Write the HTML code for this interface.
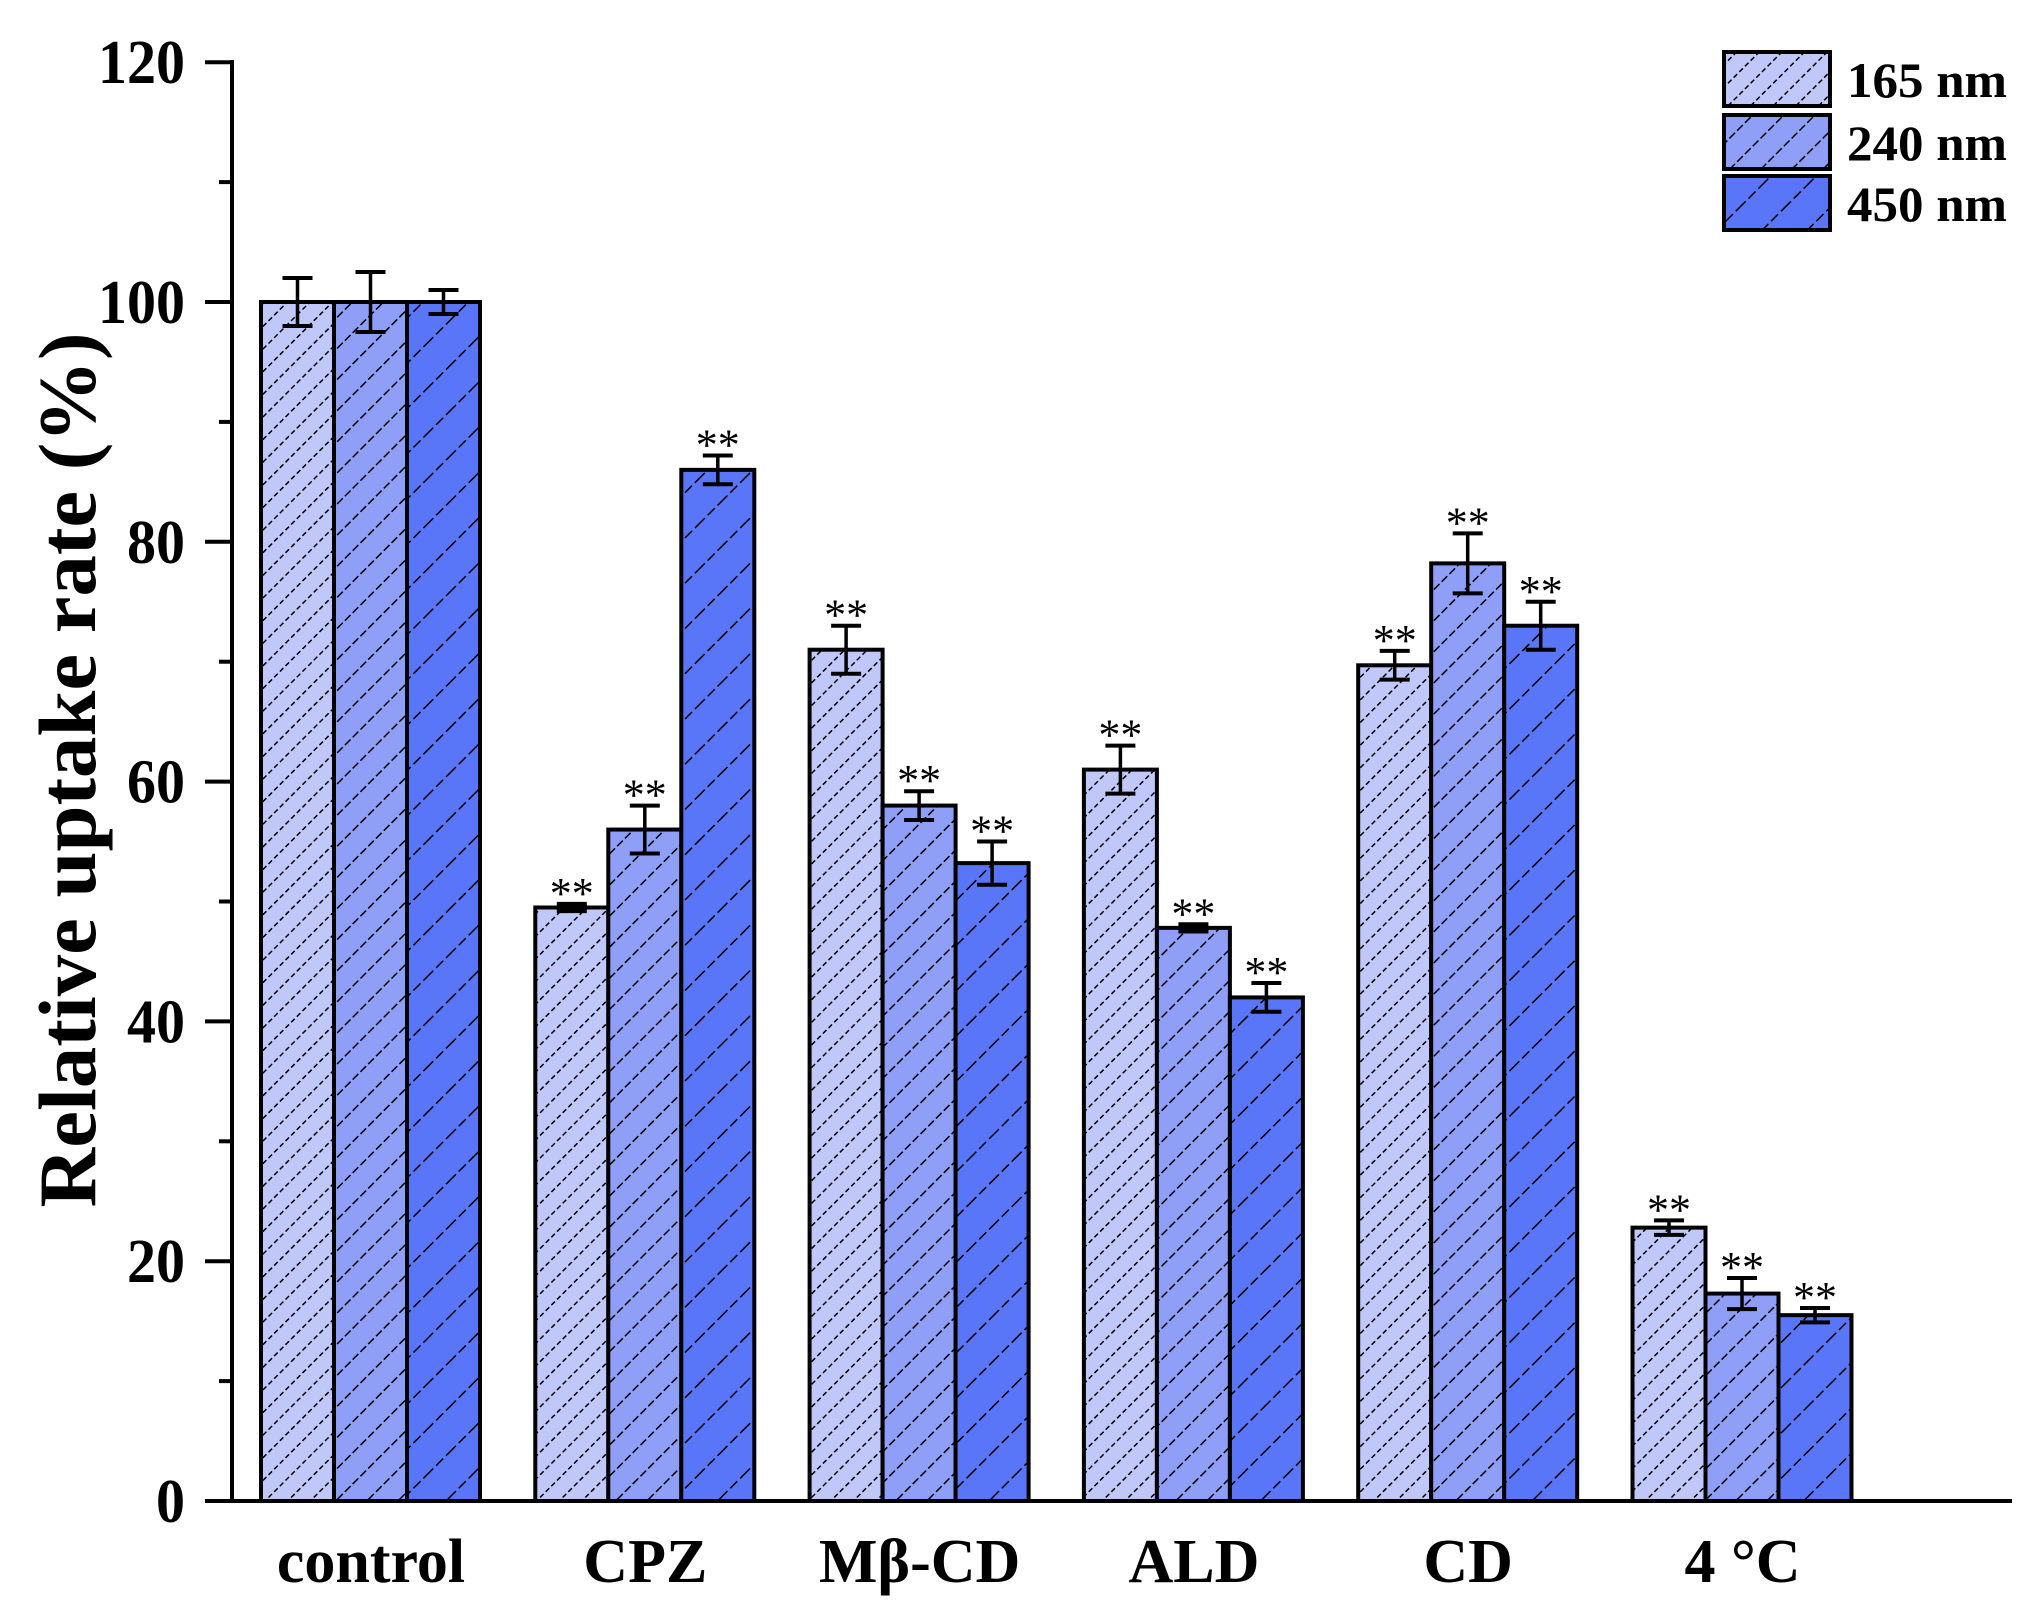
<!DOCTYPE html>
<html><head><meta charset="utf-8"><style>
html,body{margin:0;padding:0;background:#fff;}
svg{display:block;}
text{font-family:"Liberation Serif",serif;font-weight:bold;fill:#000;}
</style></head><body>
<svg id="s" width="2033" height="1608" xmlns="http://www.w3.org/2000/svg">
<defs>
<pattern id="p1" patternUnits="userSpaceOnUse" width="16" height="16" patternTransform="rotate(45)">
<rect width="16" height="16" fill="#c0c8fa"/><line x1="0" y1="0" x2="0" y2="16" stroke="#000" stroke-width="3" stroke-dasharray="5,3"/></pattern>
<pattern id="p2" patternUnits="userSpaceOnUse" width="22" height="22" patternTransform="rotate(45)">
<rect width="22" height="22" fill="#8f9ff8"/><line x1="0" y1="0" x2="0" y2="22" stroke="#000" stroke-width="3" stroke-dasharray="8,3"/></pattern>
<pattern id="p3" patternUnits="userSpaceOnUse" width="32" height="32" patternTransform="rotate(45)">
<rect width="32" height="32" fill="#5a76f8"/><line x1="0" y1="0" x2="0" y2="32" stroke="#000" stroke-width="3" stroke-dasharray="10,4"/></pattern>
</defs>
<g id="g"></g>
</svg>
<script>
var g=document.getElementById('g'),h='';
var X0=232,Y0=1501,U=11.99;
function y(v){return Y0-v*U;}
var data=[[100,2,100,2.5,100,1],[49.5,0.3,56,2,86,1.2],[71,2,58,1.2,53.2,1.8],[61,2,47.8,0.3,42,1.2],[69.7,1.2,78.2,2.5,73,2],[22.8,0.6,17.3,1.3,15.5,0.6]];
var cats=['control','CPZ','Mβ-CD','ALD','CD','4 °C'];
var W=73;
for(var i=0;i<6;i++){
 var gx=261+274.3*i;
 for(var j=0;j<3;j++){
  var v=data[i][2*j],e=data[i][2*j+1],bx=gx+j*W,ty=y(v);
  h+='<rect x="'+bx+'" y="'+ty+'" width="'+W+'" height="'+(Y0-ty)+'" fill="url(#p'+(j+1)+')" stroke="#000" stroke-width="4"/>';
  var cx=bx+W/2,t=y(v+e),b=y(v-e);
  h+='<line x1="'+cx+'" y1="'+t+'" x2="'+cx+'" y2="'+b+'" stroke="#000" stroke-width="3.5"/>';
  h+='<line x1="'+(cx-15)+'" y1="'+t+'" x2="'+(cx+15)+'" y2="'+t+'" stroke="#000" stroke-width="4"/>';
  h+='<line x1="'+(cx-15)+'" y1="'+b+'" x2="'+(cx+15)+'" y2="'+b+'" stroke="#000" stroke-width="4"/>';
  if(i>0) h+='<text x="'+cx+'" y="'+(t+4)+'" font-size="44" text-anchor="middle" style="font-weight:normal">**</text>';
 }
 h+='<text x="'+(gx+110)+'" y="1582" font-size="62" text-anchor="middle">'+cats[i]+'</text>';
}
for(var k=0;k<=12;k++){
 var ty=y(k*10),maj=k%2==0;
 h+='<line x1="'+(maj?205:219)+'" y1="'+ty+'" x2="'+X0+'" y2="'+ty+'" stroke="#000" stroke-width="4"/>';
 if(maj){var s=String(k*10);h+='<text x="185" y="'+(ty+21)+'" font-size="62" text-anchor="end" textLength="'+(s.length*29)+'" lengthAdjust="spacingAndGlyphs">'+s+'</text>';}
}
h+='<line x1="'+X0+'" y1="60" x2="'+X0+'" y2="'+(Y0+2)+'" stroke="#000" stroke-width="4"/>';
h+='<line x1="'+(X0-2)+'" y1="'+Y0+'" x2="2012" y2="'+Y0+'" stroke="#000" stroke-width="4"/>';
h+='<text transform="translate(95,770) rotate(-90)" font-size="82" text-anchor="middle" textLength="875" lengthAdjust="spacingAndGlyphs">Relative uptake rate (%)</text>';
var ly=[52,115,176],lt=['165 nm','240 nm','450 nm'];
for(var j=0;j<3;j++){
 h+='<rect x="1724" y="'+ly[j]+'" width="106" height="54" fill="url(#p'+(j+1)+')" stroke="#000" stroke-width="4"/>';
 h+='<text x="1847" y="'+(ly[j]+45)+'" font-size="50" textLength="160" lengthAdjust="spacingAndGlyphs">'+lt[j]+'</text>';
}
g.innerHTML=h;
</script>
</body></html>
